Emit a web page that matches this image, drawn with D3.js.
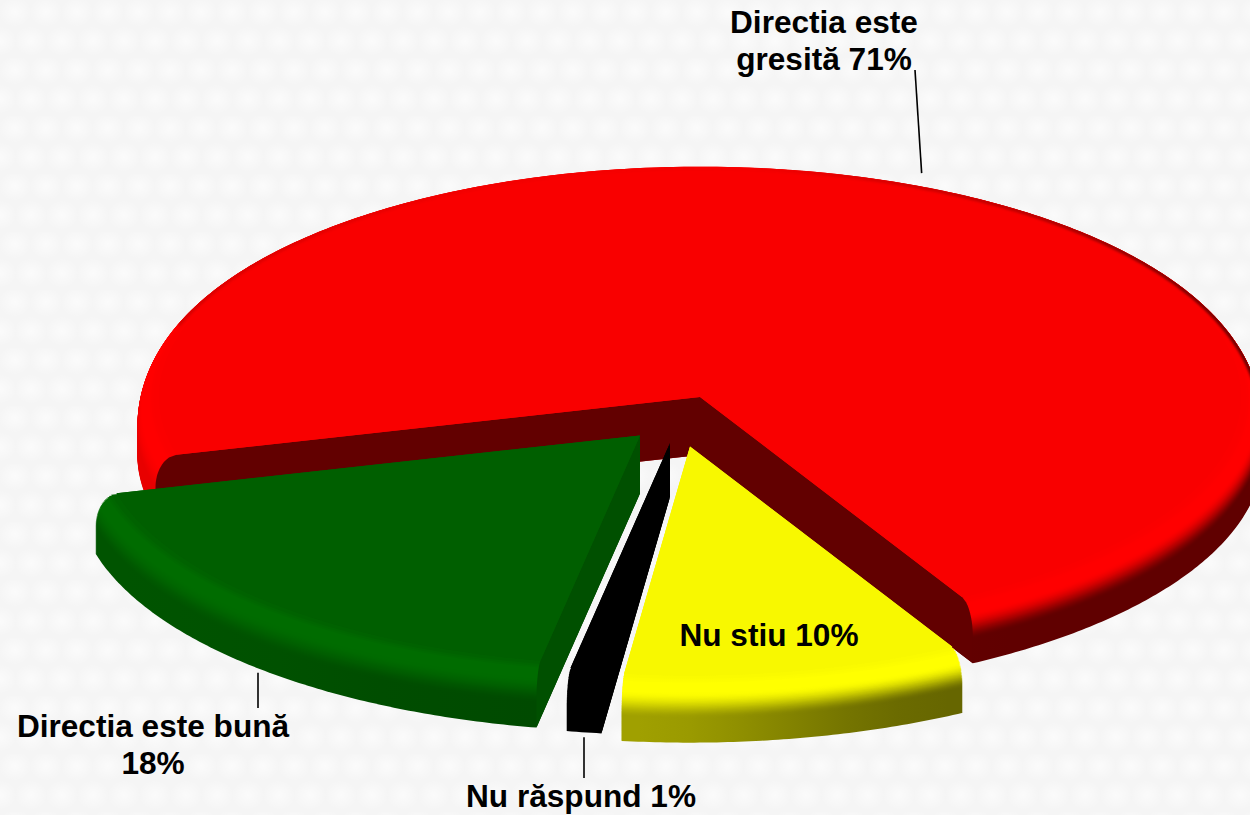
<!DOCTYPE html>
<html><head><meta charset="utf-8">
<script src="https://cdn.jsdelivr.net/npm/d3@7"></script>
<style>html,body{margin:0;padding:0;background:#f6f6f6;overflow:hidden}svg{display:block}
text{font-family:"Liberation Sans",Arial,sans-serif;font-weight:700;font-size:31.6px;fill:#000;text-anchor:middle}</style>
</head><body>
<svg id="c" width="1250" height="815"></svg>
<script>
// data
const categories = ["Directia este gresită","Nu stiu","Nu răspund","Directia este bună"];
const values = [71,10,1,18];
const labelLines = [["Directia este","gresită 71%"],["Nu stiu 10%"],["Nu răspund 1%"],["Directia este bună","18%"]];
// styling / layout (per slice)
const centers = [[700,397],[690,446.5],[670,443],[640,435.5]];
const sliceDepth = [58,58,54,58];
const topColors = ["#f90000","#f8f800","#000000","#005f00"];
const brightColors = ["#ff0000","#ffff00","#000000","#006c00"];
const darkLeft = ["#e80000","#a0a000","#000000","#005400"];
const darkRight = ["#600000","#666600","#000000","#004a00"];
const wallColors = ["#620000","#666600","#000000","#005000"];
const labelPos = [[824,33],[769,646],[581,807],[153,737]];
const leaderEnds = [[915,70],null,[584,778],[258,708]];
const drawOrder = [0,3,2,1];

const W=1250,H=815,RX=541,RY=229,BULGE=0.04,ROUND=30,START=255.4;
const svg=d3.select("#c");
const defs=svg.append("defs");
// background texture
const pat=defs.append("pattern").attr("id","bg").attr("patternUnits","userSpaceOnUse").attr("width",62).attr("height",58);
const rg=defs.append("radialGradient").attr("id","blob");
rg.append("stop").attr("offset",0).attr("stop-color","#fff").attr("stop-opacity",.6);
rg.append("stop").attr("offset",1).attr("stop-color","#fff").attr("stop-opacity",0);
pat.append("rect").attr("width",62).attr("height",58).attr("fill","#f5f5f5");
[[15,12],[46,12],[0,41],[31,41],[62,41]].forEach(p=>pat.append("ellipse").attr("cx",p[0]).attr("cy",p[1]).attr("rx",17).attr("ry",15).attr("fill","url(#blob)"));
svg.append("rect").attr("width",W).attr("height",H).attr("fill","url(#bg)");

const pie=d3.pie().sort(null).startAngle(START*Math.PI/180).endAngle((START+360)*Math.PI/180);
const arcs=pie(values);
const xs=d3.scaleLinear().domain([-1,1]).range([-RX,RX]);
const ys=d3.scaleLinear().domain([-1,1]).range([-RY,RY]);
const line=d3.line();
const sc=d=>{const t=Math.min(d/ROUND,1);return 1+BULGE*Math.sqrt(Math.max(0,1-(1-t)*(1-t)));};
const pt=(i,a,s,d)=>[centers[i][0]+xs(Math.sin(a)*s),centers[i][1]+ys(-Math.cos(a)*s)+d];
const sector=(i,s,d)=>{const A=arcs[i],n=Math.ceil((A.endAngle-A.startAngle)/0.01);
  const pts=[pt(i,0,0,d)];
  d3.range(n+1).forEach(k=>pts.push(pt(i,A.startAngle+(A.endAngle-A.startAngle)*k/n,s,d)));
  return line(pts)+"Z";};
const shadeT=d3.scaleLinear().domain([0,4,10,34,58]).range([0,1,1,2,2]).clamp(true);
const lightRange=[[450,1000],[620,960],[0,1],[100,560]];
const rimColor=(i,d,x)=>{
  const v=shadeT(d);
  if(v<=1) return d3.interpolateRgb(topColors[i],brightColors[i])(v);
  const lr=lightRange[i];
  let f=Math.max(0,Math.min(1,(x-lr[0])/(lr[1]-lr[0])));f=f*f*(3-2*f);
  const dk=d3.interpolateRgb(darkLeft[i],darkRight[i])(f);
  let t=v-1;t=t*t*(3-2*t);
  return d3.interpolateRgb(brightColors[i],dk)(t);
};
drawOrder.forEach(i=>{
  const DEPTH=sliceDepth[i];
  const depths=d3.range(DEPTH,-0.5,-1);
  const profile=d3.range(0,DEPTH+.1,2);
  const g=svg.append("g").attr("class","slice").attr("data-name",categories[i]);
  depths.forEach(d=>{
    const id=`g${i}_${d}`;
    const x0=centers[i][0]-620,x1=centers[i][0]+620;
    const lg=defs.append("linearGradient").attr("id",id).attr("gradientUnits","userSpaceOnUse").attr("x1",x0).attr("x2",x1).attr("y1",0).attr("y2",0);
    d3.range(0,25).forEach(k=>{const o=k/24;lg.append("stop").attr("offset",o).attr("stop-color",rimColor(i,d,x0+(x1-x0)*o));});
    g.append("path").attr("d",sector(i,sc(d),d)).attr("fill",`url(#${id})`);
  });
  // cut faces that look towards the viewer
  const A=arcs[i];
  [[A.startAngle,1],[A.endAngle,-1]].forEach(([a,dir])=>{
    const ex=Math.sin(a),ey=-Math.cos(a),b=a+dir*0.1,qx=Math.sin(b),qy=-Math.cos(b);
    const visible=Math.abs(ex)<1e-6?false:(qy*RY<(ey/ex)*qx*RY);
    if(!visible) return;
    const pts=profile.map(d=>pt(i,a,sc(d),d)).concat([pt(i,a,0,DEPTH),pt(i,a,0,0)]);
    g.append("path").attr("d",line(pts)+"Z").attr("fill",wallColors[i]);
  });
  g.append("path").attr("d",sector(i,1,0)).attr("fill",topColors[i]);
  if(i===0){
    // soft dark edge following the true far silhouette of the red slice
    const clip=defs.append("clipPath").attr("id","redClip");
    d3.range(0,34,1).forEach(d=>clip.append("path").attr("d",sector(0,sc(d),d)));
    defs.append("filter").attr("id","soft").attr("x","-5%").attr("y","-5%").attr("width","110%").attr("height","110%")
      .append("feGaussianBlur").attr("stdDeviation",1.3);
    const eg=defs.append("linearGradient").attr("id","edgeG").attr("gradientUnits","userSpaceOnUse").attr("x1",130).attr("x2",1250).attr("y1",0).attr("y2",0);
    [[0,.25],[.3,.05],[.55,.02],[.8,.4],[1,.9]].forEach(s=>eg.append("stop").attr("offset",s[0]).attr("stop-color","#600000").attr("stop-opacity",s[1]));
    const a0=-70*Math.PI/180,a1=100*Math.PI/180;
    const edge=d3.range(a0,a1,0.01).map(a=>{
      // the farthest layer point along this direction
      const cand=d3.range(0,34,1).map(d=>pt(0,a,sc(d),d));
      return d3.greatest(cand,p=>{const u=(p[0]-centers[0][0])*Math.sin(a)/RX-(p[1]-centers[0][1])*Math.cos(a)/RY;return u;});
    });
    svg.append("path").attr("d",line(edge)).attr("fill","none").attr("stroke","url(#edgeG)").attr("stroke-width",6).attr("filter","url(#soft)").attr("clip-path","url(#redClip)");
  }
});
// leaders
arcs.forEach((A,i)=>{
  if(!leaderEnds[i])return;
  const m=(A.startAngle+A.endAngle)/2;
  const front=Math.cos(m)<0;
  const p=pt(i,m,1+BULGE,front?sliceDepth[i]:0);
  svg.append("line").attr("x1",front?leaderEnds[i][0]:p[0]).attr("y1",p[1]+(front?5:-5)).attr("x2",leaderEnds[i][0]).attr("y2",leaderEnds[i][1]).attr("stroke","#000").attr("stroke-width",1.6);
});
// labels
labelLines.forEach((ls,i)=>{
  const t=svg.append("text").attr("x",labelPos[i][0]).attr("y",labelPos[i][1]);
  ls.forEach((l,k)=>t.append("tspan").attr("x",labelPos[i][0]).attr("dy",k?37:0).text(l));
});
</script>
</body></html>
